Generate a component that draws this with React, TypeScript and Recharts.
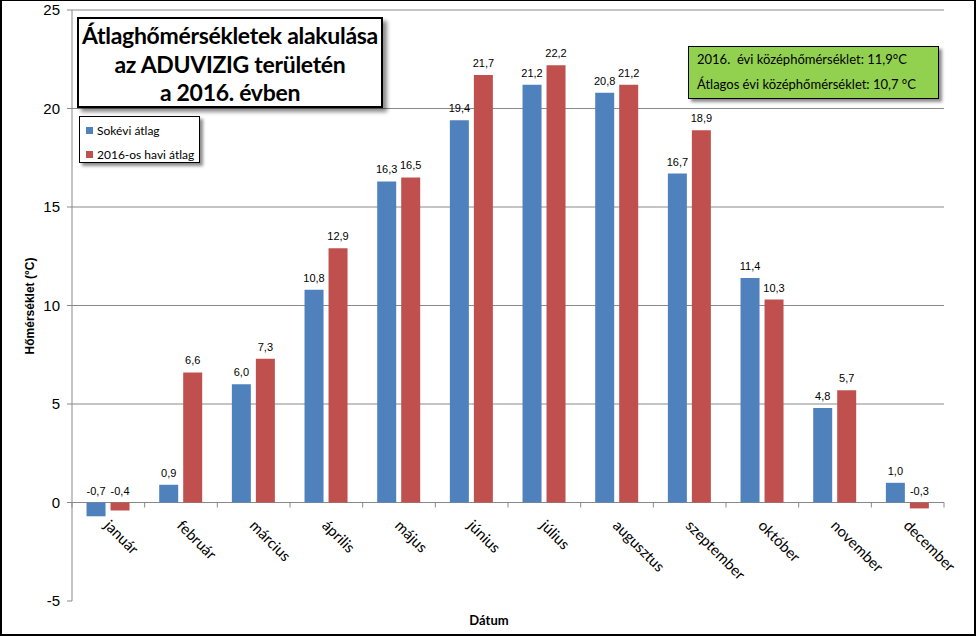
import React from 'react';
import { BarChart, Bar, XAxis, YAxis, CartesianGrid, Legend, LabelList } from 'recharts';

// monthly data
const months = [
  'január', 'február', 'március', 'április', 'május', 'június',
  'július', 'augusztus', 'szeptember', 'október', 'november', 'december',
];
const longTermAvg = [-0.7, 0.9, 6.0, 10.8, 16.3, 19.4, 21.2, 20.8, 16.7, 11.4, 4.8, 1.0];
const avg2016 = [-0.4, 6.6, 7.3, 12.9, 16.5, 21.7, 22.2, 21.2, 18.9, 10.3, 5.7, -0.3];
const yTicks = [-5, 0, 5, 10, 15, 20, 25];
const gridValues = [0, 5, 10, 15, 20, 25];
const seriesNames = ['Sokévi átlag', '2016-os havi átlag'];

const data = months.map((m, i) => ({
  month: m,
  sokevi: longTermAvg[i],
  havi: avg2016[i],
}));

const W = 976;
const H = 636;
const PLOT_TOP = 10;
const PLOT_LEFT = 72;
const PLOT_RIGHT = 944;
const PLOT_H = 591;
const X_AXIS_H = 30;
const Y_MIN = -5;
const Y_MAX = 25;
const zeroY = PLOT_TOP + (PLOT_H * Y_MAX) / (Y_MAX - Y_MIN);
const band = (PLOT_RIGHT - PLOT_LEFT) / months.length;

const BLUE = '#4F81BD';
const RED = '#C0504D';
const AXIS = '#898989';
const SANS = '"Liberation Sans", Arial, sans-serif';
const CAL = 'Lato, "Open Sans", sans-serif';

const fmt = (v: number) => v.toFixed(1).replace('.', ',');

const MonthTick = (props: any) => {
  const { x, payload, index } = props;
  return (
    <g>
      <line x1={x - band / 2} x2={x - band / 2} y1={zeroY} y2={zeroY + 5} stroke={AXIS} />
      {index === months.length - 1 && (
        <line x1={x + band / 2} x2={x + band / 2} y1={zeroY} y2={zeroY + 5} stroke={AXIS} />
      )}
      <text
        transform={`translate(${x - 5},${zeroY + 24}) rotate(45)`}
        fontFamily={CAL}
        fontSize={15}
        fill="#000"
      >
        {payload.value}
      </text>
    </g>
  );
};

const ValueLabel = (props: any) => {
  const { x, y, width, height, value } = props;
  const top = Math.min(y, y + height);
  return (
    <text x={x + width / 2} y={top - 8} textAnchor="middle" fontFamily={SANS} fontSize={11} fill="#000">
      {fmt(value)}
    </text>
  );
};

const LegendBox = (props: any) => {
  const items = [...(props.payload || [])].sort(
    (a: any, b: any) => seriesNames.indexOf(a.value) - seriesNames.indexOf(b.value)
  );
  return (
    <div
      style={{
        width: 121,
        height: 47,
        boxSizing: 'border-box',
        border: '1px solid #000',
        background: '#fff',
        boxShadow: '3px 3px 3px rgba(0,0,0,0.45)',
        fontFamily: CAL,
        fontSize: 12,
        paddingTop: 3,
      }}
    >
      {items.map((p: any) => (
        <div key={p.value} style={{ display: 'flex', alignItems: 'center', height: 20, marginBottom: 4 }}>
          <span style={{ width: 7, height: 7, background: p.color, marginLeft: 6, marginRight: 4 }} />
          <span>{p.value}</span>
        </div>
      ))}
    </div>
  );
};

export default function App() {
  return (
    <div style={{ position: 'absolute', left: 0, top: 0, width: W, height: H, background: '#fff' }}>
      <BarChart
        width={W}
        height={H}
        data={data}
        margin={{ top: PLOT_TOP, right: W - PLOT_RIGHT, bottom: H - PLOT_TOP - PLOT_H - X_AXIS_H, left: 0 }}
        barCategoryGap="20%"
        barGap={5}
      >
        <CartesianGrid horizontal vertical={false} horizontalValues={gridValues} stroke={AXIS} />
        <XAxis
          dataKey="month"
          axisLine={false}
          tickLine={false}
          interval={0}
          height={X_AXIS_H}
          tick={<MonthTick />}
        />
        <YAxis
          width={PLOT_LEFT}
          domain={[Y_MIN, Y_MAX]}
          ticks={yTicks}
          stroke={AXIS}
          tickSize={5}
          tickMargin={7}
          tick={{ fill: '#000', fontSize: 15, fontFamily: SANS }}
        />
        <Legend
          layout="vertical"
          align="center"
          verticalAlign="middle"
          content={<LegendBox />}
          wrapperStyle={{ position: 'absolute', left: 79, top: 116, width: 121, height: 47 }}
        />
        <Bar dataKey="sokevi" name={seriesNames[0]} fill={BLUE} isAnimationActive={false}>
          <LabelList dataKey="sokevi" content={<ValueLabel />} />
        </Bar>
        <Bar dataKey="havi" name={seriesNames[1]} fill={RED} isAnimationActive={false}>
          <LabelList dataKey="havi" content={<ValueLabel />} />
        </Bar>
      </BarChart>

      {/* axis titles */}
      <div
        style={{
          position: 'absolute',
          left: 30,
          top: 306,
          transform: 'translate(-50%, -50%) rotate(-90deg)',
          fontFamily: SANS,
          fontWeight: 'bold',
          fontSize: 12,
          whiteSpace: 'nowrap',
        }}
      >
        Hőmérséklet (°C)
      </div>
      <div
        style={{
          position: 'absolute',
          left: 489,
          top: 620,
          transform: 'translate(-50%, -50%)',
          fontFamily: CAL,
          fontWeight: 'bold',
          fontSize: 13,
        }}
      >
        Dátum
      </div>

      {/* title box */}
      <div
        style={{
          position: 'absolute',
          left: 77,
          top: 17,
          width: 306,
          height: 91,
          boxSizing: 'border-box',
          border: '2px solid #000',
          background: '#fff',
          boxShadow: '4px 4px 4px rgba(0,0,0,0.45)',
          fontFamily: CAL,
          fontWeight: 'bold',
          fontSize: 23,
          lineHeight: '28.5px',
          textAlign: 'center',
          paddingTop: 2,
          letterSpacing: -0.3,
          whiteSpace: 'nowrap',
        }}
      >
        <div>Átlaghőmérsékletek alakulása</div>
        <div>az ADUVIZIG területén</div>
        <div>a 2016. évben</div>
      </div>

      {/* annual mean box */}
      <div
        style={{
          position: 'absolute',
          left: 688,
          top: 46,
          width: 251,
          height: 53,
          boxSizing: 'border-box',
          border: '1px solid #000',
          background: '#92D050',
          boxShadow: '3px 3px 3px rgba(0,0,0,0.45)',
          fontFamily: CAL,
          fontSize: 13,
          lineHeight: '25px',
          paddingLeft: 8,
          whiteSpace: 'pre',
        }}
      >
        <div>2016.  évi középhőmérséklet: 11,9°C</div>
        <div>Átlagos évi középhőmérséklet: 10,7 °C</div>
      </div>

      {/* outer frame */}
      <div
        style={{
          position: 'absolute',
          left: 0,
          top: 0,
          width: W,
          height: H,
          boxSizing: 'border-box',
          borderTop: '1px solid #000',
          borderLeft: '2px solid #000',
          borderRight: '2px solid #000',
          borderBottom: '2px solid #000',
          pointerEvents: 'none',
        }}
      />
    </div>
  );
}
